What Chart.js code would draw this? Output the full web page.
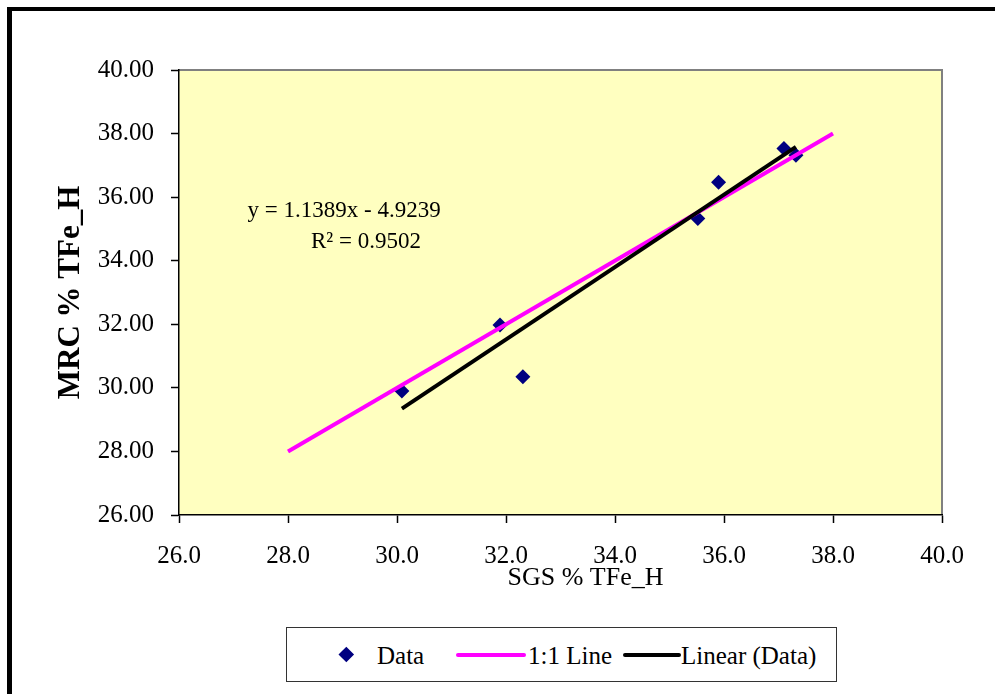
<!DOCTYPE html>
<html>
<head>
<meta charset="utf-8">
<script src="https://cdn.jsdelivr.net/npm/chart.js@4.4.1/dist/chart.umd.min.js"></script>
<style>
html,body{margin:0;padding:0;background:#fff;overflow:hidden;width:995px;height:694px;}
#wrap{position:relative;width:995px;height:694px;}
#frame{position:absolute;left:7px;top:7px;width:1000px;height:700px;border-left:5px solid #000;border-top:4px solid #000;box-sizing:border-box;pointer-events:none;}
#legend{position:absolute;left:286px;top:627px;width:551px;height:55px;border:1.5px solid #333;box-sizing:border-box;background:#fff;font-family:'Liberation Serif',serif;font-size:25px;color:#000;}
#legend .sym{position:absolute;}
#legend .txt{position:absolute;top:50%;transform:translateY(-50%);white-space:nowrap;line-height:1;}
</style>
</head>
<body>
<div id="wrap">
  <canvas id="c" width="995" height="694"></canvas>
  <div id="frame"></div>
  <div id="legend"></div>
</div>
<script>
// ---- data ----
const seriesNames = ['Data', '1:1 Line', 'Linear (Data)'];
const sgsValues = [30.09, 31.89, 32.31, 35.52, 35.90, 37.10, 37.32];
const mrcValues = [29.90, 31.98, 30.35, 35.33, 36.47, 37.53, 37.32];
const oneToOneX = [28, 38];
const oneToOneY = [28, 38];
const trendSlope = 1.1389;
const trendIntercept = -4.9239;
const equationLines = ['y = 1.1389x - 4.9239', 'R\u00B2 = 0.9502'];
const xAxisTitle = 'SGS % TFe_H';
const yAxisTitle = 'MRC % TFe_H';
const xRange = [26, 40];
const yRange = [26, 40];
const tickStep = 2;

// trendline spans the range of the data, as the spreadsheet draws it
const trendX = [Math.min(...sgsValues), Math.max(...sgsValues)];
const trendY = trendX.map(x => trendSlope * x + trendIntercept);

const FONT = "'Liberation Serif', 'Times New Roman', serif";
const colors = { data: '#000080', oneToOne: '#FF00FF', trend: '#000000', plotBg: '#FFFFC0' };

const plotBackground = {
  id: 'plotBackground',
  beforeDraw(chart) {
    const {ctx, chartArea: a} = chart;
    ctx.save();
    ctx.fillStyle = colors.plotBg;
    ctx.fillRect(a.left, a.top, a.right - a.left, a.bottom - a.top);
    ctx.strokeStyle = '#808080';
    ctx.lineWidth = 2;
    ctx.beginPath();
    ctx.moveTo(a.left, a.top);
    ctx.lineTo(a.right, a.top);
    ctx.lineTo(a.right, a.bottom);
    ctx.stroke();
    ctx.restore();
  }
};

const textLabels = {
  id: 'textLabels',
  afterDraw(chart) {
    const {ctx, chartArea: a, scales} = chart;
    ctx.save();
    ctx.fillStyle = '#000';
    ctx.textAlign = 'center';
    ctx.textBaseline = 'middle';
    ctx.font = '23px ' + FONT;
    const eqPos = [[29.03, 35.57], [29.43, 34.60]];
    equationLines.forEach((t, i) => {
      ctx.fillText(t, scales.x.getPixelForValue(eqPos[i][0]), scales.y.getPixelForValue(eqPos[i][1]));
    });
    ctx.font = '26px ' + FONT;
    ctx.fillText(xAxisTitle, (a.left + a.right) / 2 + 25, a.bottom + 63);
    ctx.restore();
  }
};

const chart = new Chart(document.getElementById('c'), {
  type: 'scatter',
  data: {
    datasets: [
      {
        label: seriesNames[0],
        data: sgsValues.map((x, i) => ({x, y: mrcValues[i]})),
        pointStyle: 'rectRot',
        pointRadius: 7.5,
        pointHoverRadius: 7.5,
        backgroundColor: colors.data,
        borderColor: colors.data,
        borderWidth: 0,
        order: 3
      },
      {
        label: seriesNames[1],
        data: oneToOneX.map((x, i) => ({x, y: oneToOneY[i]})),
        showLine: true,
        borderColor: colors.oneToOne,
        backgroundColor: colors.oneToOne,
        borderWidth: 4,
        pointRadius: 0,
        order: 2
      },
      {
        label: seriesNames[2],
        data: trendX.map((x, i) => ({x, y: trendY[i]})),
        showLine: true,
        borderColor: colors.trend,
        backgroundColor: colors.trend,
        borderWidth: 4,
        pointRadius: 0,
        order: 1
      }
    ]
  },
  options: {
    responsive: false,
    animation: false,
    layout: { padding: { top: 70, right: 53, left: 0, bottom: 0 } },
    plugins: { legend: { display: false }, tooltip: { enabled: false } },
    scales: {
      x: {
        type: 'linear',
        min: xRange[0], max: xRange[1],
        afterFit(s) { s.height = 179; },
        ticks: {
          stepSize: tickStep,
          color: '#000',
          font: { family: FONT, size: 25 },
          padding: 18,
          callback: v => Number(v).toFixed(1)
        },
        grid: { drawOnChartArea: false, drawTicks: true, tickLength: 8, color: '#000', tickWidth: 1.5 },
        border: { display: true, color: '#000', width: 1.5 }
      },
      y: {
        type: 'linear',
        min: yRange[0], max: yRange[1],
        afterFit(s) { s.width = 179; },
        ticks: {
          stepSize: tickStep,
          color: '#000',
          font: { family: FONT, size: 25 },
          padding: 17,
          callback: v => Number(v).toFixed(2)
        },
        grid: { drawOnChartArea: false, drawTicks: true, tickLength: 8, color: '#000', tickWidth: 1.5 },
        border: { display: true, color: '#000', width: 1.5 },
        title: {
          display: true,
          text: yAxisTitle,
          color: '#000',
          font: { family: FONT, size: 31, weight: 'bold' },
          padding: { top: 52, bottom: 0 }
        }
      }
    }
  },
  plugins: [plotBackground, textLabels]
});

// ---- legend (HTML, built from the chart's datasets) ----
const legendEl = document.getElementById('legend');
const legendSlots = [
  { symLeft: 52, symWidth: 15, textLeft: 90 },
  { symLeft: 169, symWidth: 70, textLeft: 241 },
  { symLeft: 336, symWidth: 58, textLeft: 394 }
];
chart.data.datasets.forEach((ds, i) => {
  const slot = legendSlots[i];
  const sym = document.createElement('div');
  sym.className = 'sym';
  if (ds.pointStyle === 'rectRot') {
    const side = slot.symWidth / Math.SQRT2;
    sym.style.cssText = `left:${slot.symLeft + (slot.symWidth - side) / 2}px;top:calc(50% - ${side / 2}px);width:${side}px;height:${side}px;background:${ds.backgroundColor};transform:rotate(45deg);`;
  } else {
    sym.style.cssText = `left:${slot.symLeft}px;top:calc(50% - ${ds.borderWidth / 2}px);width:${slot.symWidth}px;height:${ds.borderWidth}px;background:${ds.borderColor};border-radius:2px;`;
  }
  legendEl.appendChild(sym);
  const txt = document.createElement('div');
  txt.className = 'txt';
  txt.style.left = slot.textLeft + 'px';
  txt.textContent = ds.label;
  legendEl.appendChild(txt);
});
</script>
</body>
</html>
